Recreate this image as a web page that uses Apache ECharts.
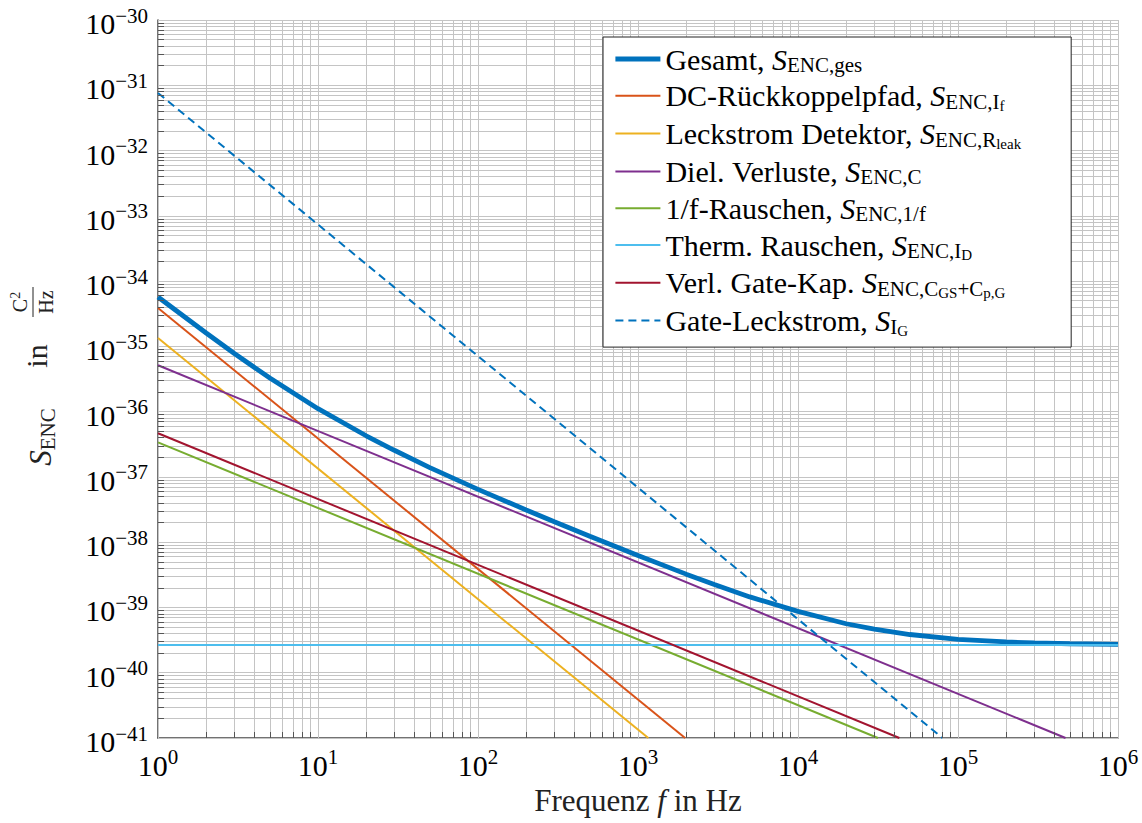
<!DOCTYPE html>
<html><head><meta charset="utf-8">
<script src="https://cdn.jsdelivr.net/npm/echarts@6/dist/echarts.min.js"></script>
<style>html,body{margin:0;padding:0;background:#fff}#c{width:1142px;height:823px}</style>
</head><body><div id="c"></div>
<script>
const FONT = 'Liberation Serif';
const SP = '\u00a0';

// ---- data, values in C^2/Hz ----
const seriesNames = ['Gesamt', 'DC-Rückkoppelpfad', 'Leckstrom Detektor', 'Diel. Verluste',
  '1/f-Rauschen', 'Therm. Rauschen', 'Verl. Gate-Kap.', 'Gate-Leckstrom'];
const legendLabels = [
  '{n|Gesamt, }{i|S}{s|ENC,ges}',
  '{n|DC-Rückkoppelpfad, }{i|S}{s|ENC,I}{ss|f}',
  '{n|Leckstrom Detektor, }{i|S}{s|ENC,R}{ss|leak}',
  '{n|Diel. Verluste, }{i|S}{s|ENC,C}',
  '{n|1/f-Rauschen, }{i|S}{s|ENC,1/f}',
  '{n|Therm. Rauschen, }{i|S}{s|ENC,I}{ss|D}',
  '{n|Verl. Gate-Kap. }{i|S}{s|ENC,C}{ss|GS}{s|+C}{ss|p,G}',
  '{n|Gate-Leckstrom, }{i|S}{s|I}{ss|G}'
];
const xAxisTitle = '{n|Frequenz }{i|f}{n| in Hz}';
const xTicks = [1, 10, 100, 1e3, 1e4, 1e5, 1e6];
const yTicks = [1e-41, 1e-40, 1e-39, 1e-38, 1e-37, 1e-36, 1e-35, 1e-34, 1e-33, 1e-32, 1e-31, 1e-30];

const gesamtFreq = [1, 2, 3, 5, 10, 20, 30, 50, 100, 200, 300, 500, 1e3, 2e3, 3e3, 5e3, 1e4, 2e4, 3e4, 5e4, 1e5, 2e5, 3e5, 5e5, 1e6];
const gesamtVal  = [5.7e-35, 1.6e-35, 7.77e-36, 3.27e-36, 1.11e-36, 4.27e-37, 2.56e-37, 1.39e-37, 6.45e-38, 3.12e-38, 2.06e-38, 1.23e-38,
                    6.25e-39, 3.24e-39, 2.25e-39, 1.45e-39, 8.7e-40, 5.63e-40, 4.64e-40, 3.85e-40, 3.25e-40, 2.96e-40, 2.86e-40, 2.78e-40, 2.72e-40];
const dcFreq = [1, 1970];            const dcVal = [3.87e-35, 1e-41];
const leakFreq = [1, 1160];          const leakVal = [1.34e-35, 1e-41];
const dielFreq = [1, 470000];        const dielVal = [5.13e-36, 1e-41];
const flickerFreq = [1, 31600];      const flickerVal = [3.39e-37, 1e-41];
const thermFreq = [1, 1e6];          const thermVal = [2.66e-40, 2.66e-40];
const gateCapFreq = [1, 43000];      const gateCapVal = [4.66e-37, 1e-41];
const gateLeakFreq = [1, 80000];     const gateLeakVal = [7.62e-32, 1e-41];

const colors = ['#0072BD', '#D95319', '#EDB120', '#7E2F8E', '#77AC30', '#4DBEEE', '#A2142F', '#0072BD'];

// The y axis works in units of 1e-41 C^2/Hz (avoids precision loss on tiny numbers); labels show true exponents.
const Y_UNIT = 1e-41;
const EXP0 = -41;
const toY = v => v / Y_UNIT;
const zip = (a, b) => a.map((v, i) => [v, toY(b[i])]);
const seriesData = [
  zip(gesamtFreq, gesamtVal), zip(dcFreq, dcVal), zip(leakFreq, leakVal), zip(dielFreq, dielVal),
  zip(flickerFreq, flickerVal), zip(thermFreq, thermVal), zip(gateCapFreq, gateCapVal), zip(gateLeakFreq, gateLeakVal)
];
const yTickVals = yTicks.map(v => Math.pow(10, Math.round(Math.log10(v)) - EXP0));
const nb = s => s.replace(/ /g, SP);

// ---- grid helper lines (log decades) ----
const gridX = [], gridY = [], tickMarks = [];
for (let k = 0; k < 6; k++) for (let m = 1; m <= 9; m++) gridX.push(m * Math.pow(10, k));
gridX.push(1e6);
for (let k = 0; k < 11; k++) for (let m = 1; m <= 9; m++) gridY.push(m * Math.pow(10, k));
gridY.push(1e11);
const yTickTop = Math.pow(10, 6 / 65.3);
const xTickRight = Math.pow(10, 6 / 160);
for (let k = 0; k < 6; k++) for (let m = 2; m <= 9; m++) {
  const v = m * Math.pow(10, k);
  tickMarks.push([{coord: [v, 1]}, {coord: [v, yTickTop]}]);
}
for (let k = 0; k < 11; k++) for (let m = 2; m <= 9; m++) {
  const v = m * Math.pow(10, k);
  tickMarks.push([{coord: [1, v]}, {coord: [xTickRight, v]}]);
}

const supText = e => '{b|10}{s|' + (e < 0 ? '\u2212' : '') + Math.abs(e) + '}';
const tickRich = {
  b: {fontSize: 30, fontFamily: FONT, color: '#000', padding: [7, 0, 0, 0]},
  s: {fontSize: 21, fontFamily: FONT, color: '#000', padding: [0, 0, 9, 0]}
};

const series = seriesNames.map((n, i) => ({
  name: n, type: 'line', data: seriesData[i], symbol: 'none', showSymbol: false,
  clip: true, z: 3 + i,
  lineStyle: {color: colors[i], width: i === 0 ? 4.8 : 2, type: i === 7 ? [8, 5] : 'solid'},
  itemStyle: {color: colors[i]}, emphasis: {disabled: true}
}));
series.unshift({
  name: '_grid', type: 'line', data: [[1, 1]], symbol: 'none', showSymbol: false,
  lineStyle: {width: 0, opacity: 0}, z: 1, silent: true,
  markLine: {
    z: 1, silent: true, symbol: ['none', 'none'], animation: false,
    label: {show: false}, emphasis: {disabled: true},
    lineStyle: {color: '#c4c4c4', width: 1, type: 'solid'},
    data: gridX.map(v => ({xAxis: v})).concat(gridY.map(v => ({yAxis: v})))
  }
});
series.push({
  name: '_ticks', type: 'line', data: [[1, 1]], symbol: 'none', showSymbol: false,
  lineStyle: {width: 0, opacity: 0}, z: 20, silent: true,
  markLine: {
    z: 20, silent: true, symbol: ['none', 'none'], animation: false,
    label: {show: false}, emphasis: {disabled: true},
    lineStyle: {color: '#555', width: 1, type: 'solid'},
    data: tickMarks
  }
});

const legendRich = {
  n: {fontSize: 30, fontFamily: FONT, color: '#000'},
  i: {fontSize: 30, fontFamily: FONT, fontStyle: 'italic', color: '#000'},
  s: {fontSize: 21, fontFamily: FONT, height: 18, verticalAlign: 'bottom', color: '#000'},
  ss: {fontSize: 15, fontFamily: FONT, height: 10, verticalAlign: 'bottom', color: '#000'}
};

const chart = echarts.init(document.getElementById('c'), null, {renderer: 'svg'});
chart.setOption({
  animation: false,
  backgroundColor: '#fff',
  grid: {left: 158, right: 24, top: 20, bottom: 85},
  xAxis: {
    type: 'log', logBase: 10, min: 1, max: 1e6,
    name: nb(xAxisTitle), nameLocation: 'middle', nameGap: 47,
    nameTextStyle: {fontSize: 31, fontFamily: FONT, color: '#222',
      rich: {n: {fontSize: 31, fontFamily: FONT, color: '#222'},
             i: {fontSize: 31, fontFamily: FONT, fontStyle: 'italic', color: '#222'}}},
    axisLine: {show: true, lineStyle: {color: '#444', width: 1.5}},
    axisTick: {show: true, inside: true, length: 6, lineStyle: {color: '#555'}, customValues: xTicks},
    axisLabel: {customValues: xTicks, formatter: v => supText(Math.round(Math.log10(v))), rich: tickRich, margin: 5},
    splitLine: {show: false}
  },
  yAxis: {
    type: 'log', logBase: 10, min: 1, max: 1e11,
    axisLine: {show: true, lineStyle: {color: '#444', width: 1.5}},
    axisTick: {show: true, inside: true, length: 6, lineStyle: {color: '#555'}, customValues: yTickVals},
    axisLabel: {customValues: yTickVals, formatter: v => supText(Math.round(Math.log10(v)) + EXP0), rich: tickRich, margin: 10},
    splitLine: {show: false}
  },
  legend: {
    data: seriesNames.map((n, i) => i === 0 ? {name: n, lineStyle: {width: 4.8}} : {name: n}),
    orient: 'vertical', left: 603, top: 37,
    itemWidth: 45, itemHeight: 14, itemGap: 5.3,
    padding: [7, 50, 9, 10],
    itemStyle: {opacity: 0},
    backgroundColor: '#fff', borderColor: '#222', borderWidth: 1, borderRadius: 0,
    selectedMode: false, z: 30,
    formatter: n => nb(legendLabels[seriesNames.indexOf(n)]),
    textStyle: {fontSize: 30, fontFamily: FONT, color: '#000', rich: legendRich}
  },
  graphic: [
    {type: 'text', x: 40, y: 437, rotation: Math.PI / 2, silent: true,
      style: {text: '{i|S}{s|ENC}', align: 'center', verticalAlign: 'middle',
        rich: {i: {fontSize: 31, fontFamily: FONT, fontStyle: 'italic', fill: '#222', lineHeight: 34},
               s: {fontSize: 21, fontFamily: FONT, fill: '#222', lineHeight: 34, height: 18, verticalAlign: 'bottom'}}}},
    {type: 'text', x: 36, y: 356, rotation: Math.PI / 2, silent: true,
      style: {text: 'in', fontSize: 30, fontFamily: FONT, fill: '#222', align: 'center', verticalAlign: 'middle'}},
    {type: 'text', x: 20, y: 302, rotation: Math.PI / 2, silent: true,
      style: {text: '{a|C}{b|2}', align: 'center', verticalAlign: 'middle',
        rich: {a: {fontSize: 20, fontFamily: FONT, fill: '#222'},
               b: {fontSize: 14, fontFamily: FONT, fill: '#222', padding: [0, 0, 10, 0]}}}},
    {type: 'line', silent: true, shape: {x1: 33, y1: 287, x2: 33, y2: 317}, style: {stroke: '#222', lineWidth: 1}},
    {type: 'text', x: 46, y: 302, rotation: Math.PI / 2, silent: true,
      style: {text: 'Hz', fontSize: 20, fontFamily: FONT, fill: '#222', align: 'center', verticalAlign: 'middle'}}
  ],
  series: series
});
</script></body></html>
